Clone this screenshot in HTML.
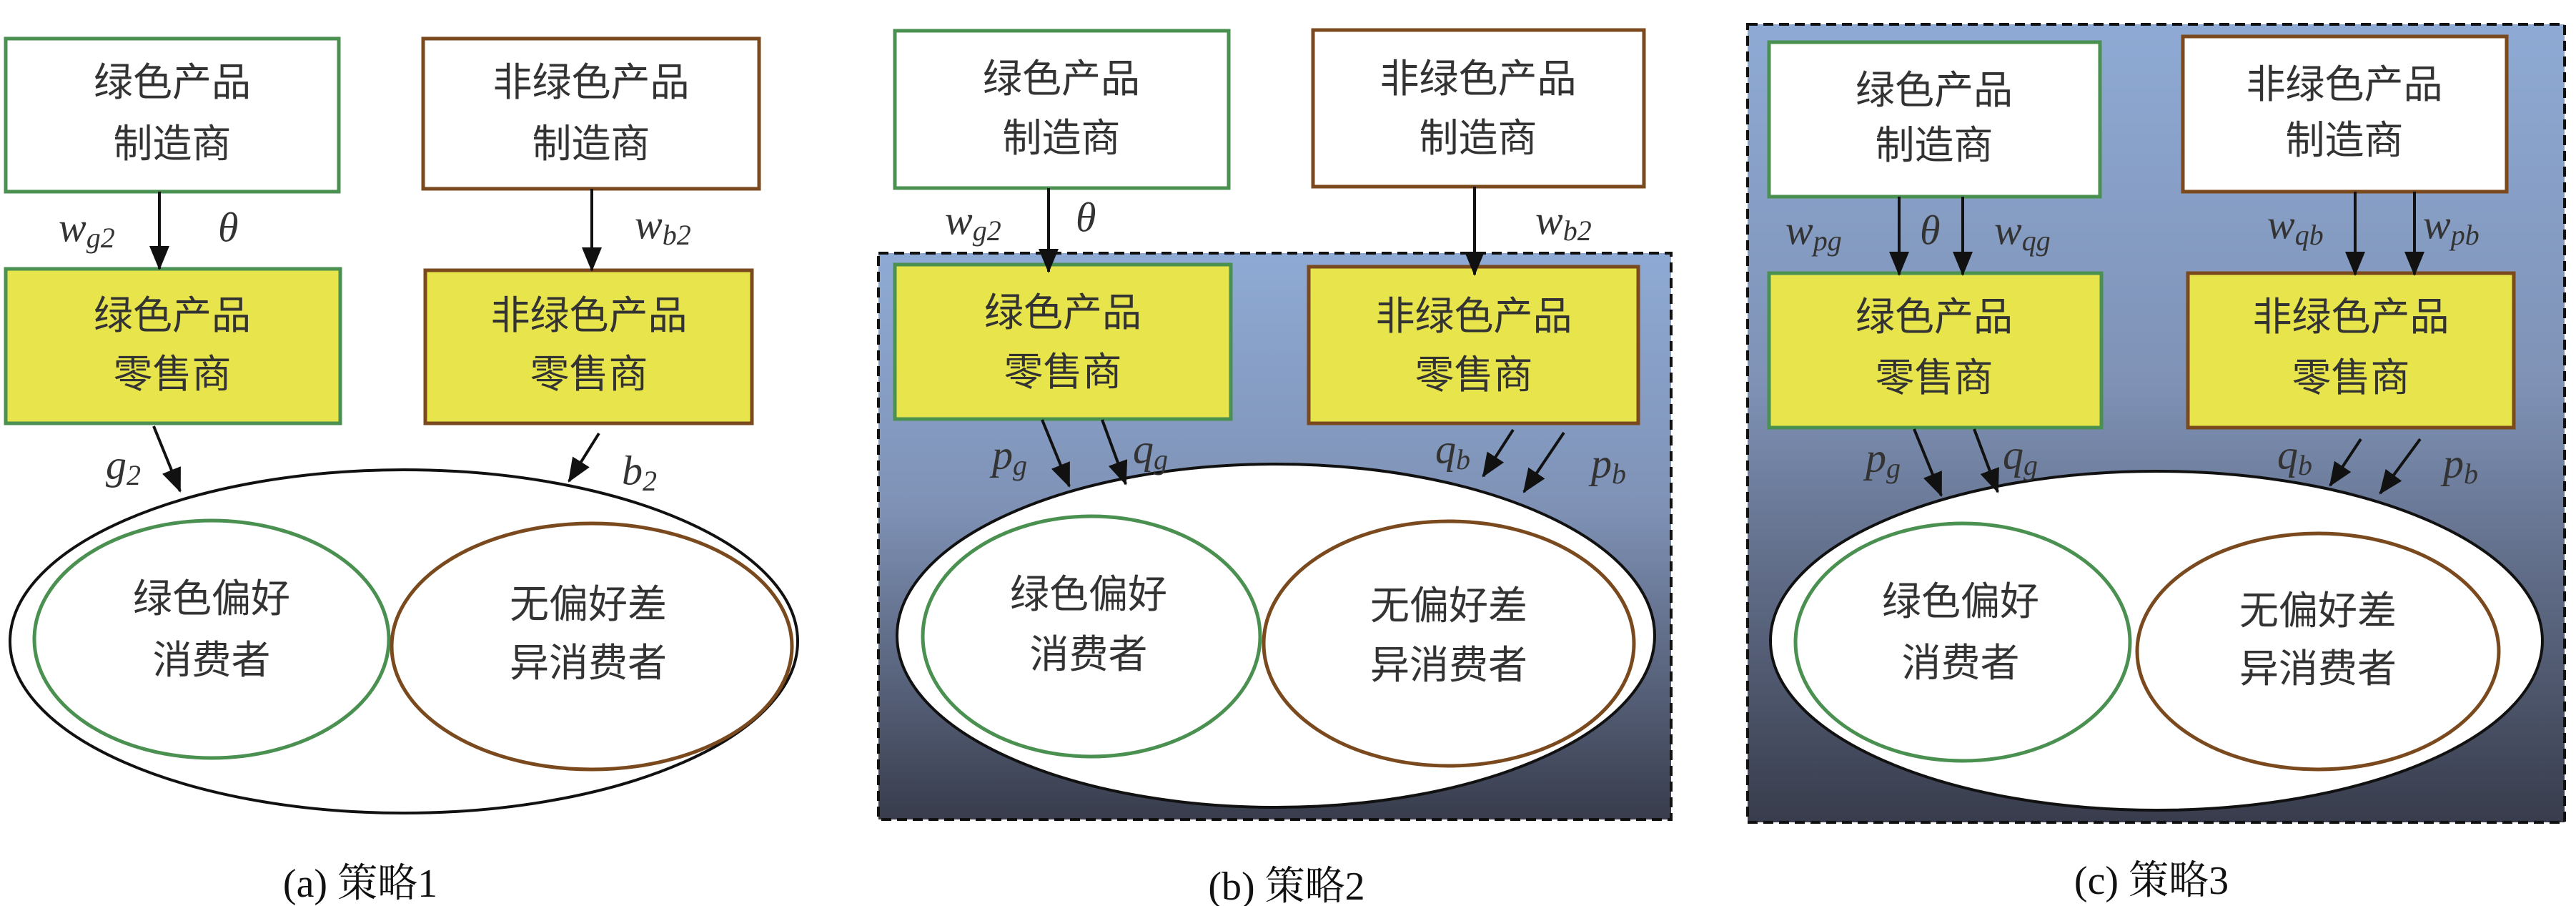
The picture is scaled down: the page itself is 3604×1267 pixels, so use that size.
<!DOCTYPE html>
<html><head><meta charset="utf-8"><style>
html,body{margin:0;padding:0;background:#fff;}
svg{display:block;}
.t{font-family:"Liberation Sans","Noto Sans CJK SC",sans-serif;font-size:55px;fill:#333;text-anchor:middle;dominant-baseline:central;}
.m{font-family:"Liberation Serif",serif;font-style:italic;font-size:58px;fill:#333;dominant-baseline:central;}
.s{font-size:40px;}
.cap{font-family:"Liberation Serif","Noto Serif CJK SC",serif;font-size:56px;fill:#111;text-anchor:middle;dominant-baseline:central;}
.g{stroke:#4a9050;stroke-width:5;}
.b{stroke:#7a4a1e;stroke-width:5;}
.a{stroke:#111;stroke-width:4;fill:none;marker-end:url(#ah);}
</style></head><body>
<svg width="3604" height="1267" viewBox="0 0 3604 1267" xmlns="http://www.w3.org/2000/svg">
<defs>
<marker id="ah" markerUnits="userSpaceOnUse" markerWidth="36" markerHeight="30" refX="32" refY="14" orient="auto">
<path d="M0,0 L34,14 L0,28 Z" fill="#111"/>
</marker>
<linearGradient id="bg" x1="0" y1="0" x2="0" y2="1">
<stop offset="0" stop-color="#8eaad4"/>
<stop offset="0.45" stop-color="#7f92b6"/>
<stop offset="1" stop-color="#383c4c"/>
</linearGradient>
</defs>

<!-- Panel A -->
<rect x="8" y="54" width="466" height="214" fill="#fff" class="g"/>
<text class="t" x="241" y="115">绿色产品</text><text class="t" x="241" y="201">制造商</text>
<rect x="592" y="54" width="470" height="210" fill="#fff" class="b"/>
<text class="t" x="827" y="115">非绿色产品</text><text class="t" x="827" y="201">制造商</text>
<rect x="8" y="376" width="468" height="216" fill="#e8e44c" class="g"/>
<text class="t" x="241" y="441">绿色产品</text><text class="t" x="241" y="523">零售商</text>
<rect x="595" y="378" width="457" height="214" fill="#e8e44c" class="b"/>
<text class="t" x="824" y="441">非绿色产品</text><text class="t" x="824" y="523">零售商</text>
<line class="a" x1="223" y1="268" x2="223" y2="376"/>
<line class="a" x1="828" y1="264" x2="828" y2="378"/>
<text class="m" x="82" y="318">w<tspan class="s" dy="14">g2</tspan></text>
<text class="m" x="305" y="318">θ</text>
<text class="m" x="888" y="314">w<tspan class="s" dy="14">b2</tspan></text>
<ellipse cx="565" cy="897" rx="551" ry="240" fill="#fff" stroke="#111" stroke-width="4"/>
<ellipse cx="296" cy="894" rx="248" ry="166" fill="none" class="g"/>
<ellipse cx="828" cy="904" rx="280" ry="172" fill="none" class="b"/>
<text class="t" x="296" y="837">绿色偏好</text><text class="t" x="296" y="923">消费者</text>
<text class="t" x="823" y="845">无偏好差</text><text class="t" x="823" y="927">异消费者</text>
<line class="a" x1="215" y1="596" x2="252" y2="687"/>
<line class="a" x1="838" y1="606" x2="796" y2="673"/>
<text class="m" x="148" y="650">g<tspan class="s" dy="14">2</tspan></text>
<text class="m" x="870" y="658">b<tspan class="s" dy="14">2</tspan></text>
<text class="cap" x="504" y="1236">(a) 策略1</text>

<!-- Panel B -->
<rect x="1229" y="354" width="1109" height="792" fill="url(#bg)" stroke="#111" stroke-width="4" stroke-dasharray="14 8"/>
<rect x="1252" y="43" width="467" height="220" fill="#fff" class="g"/>
<text class="t" x="1485" y="110">绿色产品</text><text class="t" x="1485" y="193">制造商</text>
<rect x="1837" y="42" width="463" height="219" fill="#fff" class="b"/>
<text class="t" x="2068" y="110">非绿色产品</text><text class="t" x="2068" y="193">制造商</text>
<rect x="1252" y="370" width="470" height="216" fill="#e8e44c" class="g"/>
<text class="t" x="1487" y="437">绿色产品</text><text class="t" x="1487" y="520">零售商</text>
<rect x="1831" y="373" width="461" height="219" fill="#e8e44c" class="b"/>
<text class="t" x="2062" y="442">非绿色产品</text><text class="t" x="2062" y="524">零售商</text>
<line class="a" x1="1467" y1="263" x2="1467" y2="380"/>
<line class="a" x1="2063" y1="261" x2="2063" y2="384"/>
<text class="m" x="1322" y="308">w<tspan class="s" dy="14">g2</tspan></text>
<text class="m" x="1505" y="304">θ</text>
<text class="m" x="2148" y="308">w<tspan class="s" dy="14">b2</tspan></text>
<ellipse cx="1785" cy="889" rx="530" ry="240" fill="#fff" stroke="#111" stroke-width="4"/>
<ellipse cx="1527" cy="890" rx="236" ry="168" fill="none" class="g"/>
<ellipse cx="2027" cy="900" rx="259" ry="171" fill="none" class="b"/>
<text class="t" x="1523" y="831">绿色偏好</text><text class="t" x="1523" y="915">消费者</text>
<text class="t" x="2027" y="847">无偏好差</text><text class="t" x="2027" y="930">异消费者</text>
<line class="a" x1="1458" y1="587" x2="1496" y2="680"/>
<line class="a" x1="1542" y1="587" x2="1575" y2="677"/>
<line class="a" x1="2117" y1="601" x2="2075" y2="666"/>
<line class="a" x1="2188" y1="605" x2="2132" y2="688"/>
<text class="m" x="1388" y="636">p<tspan class="s" dy="14">g</tspan></text>
<text class="m" x="1585" y="628">q<tspan class="s" dy="14">g</tspan></text>
<text class="m" x="2008" y="628">q<tspan class="s" dy="14">b</tspan></text>
<text class="m" x="2226" y="648">p<tspan class="s" dy="14">b</tspan></text>
<text class="cap" x="1800" y="1240">(b) 策略2</text>

<!-- Panel C -->
<rect x="2445" y="34" width="1143" height="1116" fill="url(#bg)" stroke="#111" stroke-width="4" stroke-dasharray="14 8"/>
<rect x="2475" y="59" width="463" height="216" fill="#fff" class="g"/>
<text class="t" x="2706" y="126">绿色产品</text><text class="t" x="2706" y="203">制造商</text>
<rect x="3054" y="51" width="453" height="217" fill="#fff" class="b"/>
<text class="t" x="3280" y="118">非绿色产品</text><text class="t" x="3280" y="196">制造商</text>
<rect x="2475" y="382" width="465" height="216" fill="#e8e44c" class="g"/>
<text class="t" x="2706" y="443">绿色产品</text><text class="t" x="2706" y="528">零售商</text>
<rect x="3061" y="382" width="456" height="216" fill="#e8e44c" class="b"/>
<text class="t" x="3289" y="443">非绿色产品</text><text class="t" x="3289" y="528">零售商</text>
<line class="a" x1="2657" y1="275" x2="2657" y2="384"/>
<line class="a" x1="2746" y1="275" x2="2746" y2="384"/>
<line class="a" x1="3295" y1="268" x2="3295" y2="384"/>
<line class="a" x1="3378" y1="268" x2="3378" y2="384"/>
<text class="m" x="2498" y="322">w<tspan class="s" dy="14">pg</tspan></text>
<text class="m" x="2686" y="322">θ</text>
<text class="m" x="2790" y="322">w<tspan class="s" dy="14">qg</tspan></text>
<text class="m" x="3172" y="314">w<tspan class="s" dy="14">qb</tspan></text>
<text class="m" x="3390" y="314">w<tspan class="s" dy="14">pb</tspan></text>
<ellipse cx="3017" cy="896" rx="540" ry="237" fill="#fff" stroke="#111" stroke-width="4"/>
<ellipse cx="2746" cy="898" rx="234" ry="166" fill="none" class="g"/>
<ellipse cx="3243" cy="911" rx="253" ry="165" fill="none" class="b"/>
<text class="t" x="2743" y="841">绿色偏好</text><text class="t" x="2743" y="927">消费者</text>
<text class="t" x="3243" y="854">无偏好差</text><text class="t" x="3243" y="935">异消费者</text>
<line class="a" x1="2678" y1="600" x2="2716" y2="693"/>
<line class="a" x1="2762" y1="600" x2="2795" y2="688"/>
<line class="a" x1="3303" y1="614" x2="3260" y2="679"/>
<line class="a" x1="3386" y1="614" x2="3330" y2="690"/>
<text class="m" x="2610" y="640">p<tspan class="s" dy="14">g</tspan></text>
<text class="m" x="2802" y="636">q<tspan class="s" dy="14">g</tspan></text>
<text class="m" x="3186" y="636">q<tspan class="s" dy="14">b</tspan></text>
<text class="m" x="3418" y="648">p<tspan class="s" dy="14">b</tspan></text>
<text class="cap" x="3010" y="1232">(c) 策略3</text>
</svg>
</body></html>
